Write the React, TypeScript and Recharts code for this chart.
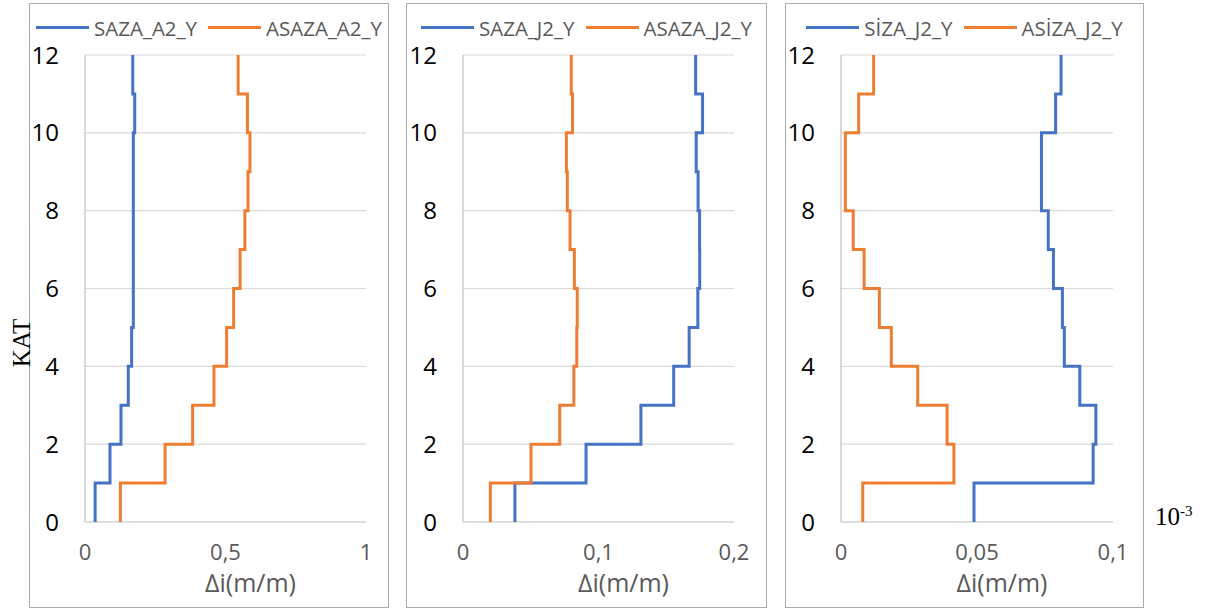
import React from 'react';
import { ScatterChart, Scatter, XAxis, YAxis, CartesianGrid, Label } from 'recharts';

// KAT (floor) numbers
const floors = [1, 2, 3, 4, 5, 6, 7, 8, 9, 10, 11, 12];
const yTicks = [0, 2, 4, 6, 8, 10, 12];

// Panel 1 – A2
const sazaA2Y = [0.036, 0.089, 0.128, 0.154, 0.166, 0.172, 0.172, 0.172, 0.172, 0.172, 0.177, 0.170];
const asazaA2Y = [0.126, 0.285, 0.383, 0.459, 0.504, 0.529, 0.552, 0.569, 0.580, 0.587, 0.578, 0.545];
const xTicksA2 = [0, 0.5, 1];

// Panel 2 – J2
const sazaJ2Y = [0.0383, 0.0908, 0.1313, 0.1555, 0.1669, 0.1733, 0.1747, 0.1746, 0.1735, 0.1721, 0.1768, 0.1717];
const asazaJ2Y = [0.0202, 0.0502, 0.0714, 0.0818, 0.0840, 0.0843, 0.0822, 0.0790, 0.0770, 0.0763, 0.0808, 0.0799];
const xTicksJ2 = [0, 0.1, 0.2];

// Panel 3 – SİZA J2 (x 10^-3)
const sizaJ2Y = [0.0489, 0.0927, 0.0937, 0.0878, 0.0821, 0.0814, 0.0781, 0.0762, 0.0737, 0.0737, 0.0789, 0.0809];
const asizaJ2Y = [0.0080, 0.0415, 0.0390, 0.0282, 0.0185, 0.0141, 0.0085, 0.0045, 0.0016, 0.0016, 0.0065, 0.0120];
const xTicksSiza = [0, 0.05, 0.1];

const BLUE = '#4472C4';
const ORANGE = '#ED7D31';
const FONT = '"Open Sans", sans-serif';

type Pt = { x: number; y: number };

function stepPoints(values: number[]): Pt[] {
  const pts: Pt[] = [];
  values.forEach((v, i) => {
    pts.push({ x: v, y: floors[i] - 1 });
    pts.push({ x: v, y: floors[i] });
  });
  return pts;
}

const noShape = () => <g />;
const fmt = (v: number) => String(v).replace('.', ',');

type Series = { name: string; color: string; values: number[] };

type PanelProps = {
  left: number;
  width: number;
  yAxisWidth: number;
  marginRight: number;
  xMax: number;
  xTicks: number[];
  series: Series[];
};

function Panel({ left, width, yAxisWidth, marginRight, xMax, xTicks, series }: PanelProps) {
  const chartW = width - 2;
  const chartH = 603;
  return (
    <div
      style={{
        position: 'absolute',
        left,
        top: 3,
        width: width - 2,
        height: 603,
        border: '1px solid #ababab',
        background: 'transparent',
      }}
    >
      <div
        style={{
          position: 'absolute',
          left: 0,
          top: 11,
          width: chartW,
          height: 25,
          display: 'flex',
          justifyContent: 'center',
          alignItems: 'center',
          gap: 11,
          whiteSpace: 'nowrap',
          fontFamily: FONT,
          fontSize: 20.5,
          color: '#595959',
        }}
      >
        {series.map((s) => (
          <div key={s.name} style={{ display: 'flex', alignItems: 'center' }}>
            <div style={{ width: 53, height: 3, background: s.color, marginRight: 5 }} />
            <span>{s.name}</span>
          </div>
        ))}
      </div>
      <ScatterChart
        width={chartW}
        height={chartH}
        margin={{ top: 51, right: marginRight, bottom: 0, left: 0 }}
      >
        <CartesianGrid vertical={false} stroke="#d9d9d9" strokeWidth={1.2} />
        <XAxis
          type="number"
          dataKey="x"
          domain={[0, xMax]}
          ticks={xTicks}
          allowDataOverflow
          tickFormatter={fmt}
          tickLine={false}
          axisLine={{ stroke: '#d0d0d0', strokeWidth: 1.2 }}
          tickMargin={16}
          height={85}
          tick={{ fill: '#595959', fontSize: 22, fontFamily: FONT }}
        >
          <Label
            value="∆i(m/m)"
            position="insideBottom"
            offset={15}
            dx={25}
            style={{ fill: '#595959', fontSize: 25, fontFamily: FONT }}
          />
        </XAxis>
        <YAxis
          type="number"
          dataKey="y"
          domain={[0, 12]}
          ticks={yTicks}
          width={yAxisWidth}
          tickLine={false}
          axisLine={{ stroke: '#bfbfbf', strokeWidth: 1.2 }}
          tickMargin={20}
          tick={{ fill: '#000000', fontSize: 24, fontFamily: FONT }}
        />
        {series.map((s) => (
          <Scatter
            key={s.name}
            name={s.name}
            data={stepPoints(s.values)}
            fill={s.color}
            line={{ stroke: s.color, strokeWidth: 3 }}
            lineJointType="linear"
            shape={noShape}
            isAnimationActive={false}
          />
        ))}
      </ScatterChart>
    </div>
  );
}

export default function App() {
  return (
    <div
      style={{
        position: 'absolute',
        left: 0,
        top: 0,
        width: 1219,
        height: 612,
        background: '#ffffff',
        overflow: 'hidden',
      }}
    >
      <Panel
        left={29}
        width={360}
        yAxisWidth={55}
        marginRight={22}
        xMax={1}
        xTicks={xTicksA2}
        series={[
          { name: 'SAZA_A2_Y', color: BLUE, values: sazaA2Y },
          { name: 'ASAZA_A2_Y', color: ORANGE, values: asazaA2Y },
        ]}
      />
      <Panel
        left={406}
        width={361}
        yAxisWidth={56}
        marginRight={32}
        xMax={0.2}
        xTicks={xTicksJ2}
        series={[
          { name: 'SAZA_J2_Y', color: BLUE, values: sazaJ2Y },
          { name: 'ASAZA_J2_Y', color: ORANGE, values: asazaJ2Y },
        ]}
      />
      <Panel
        left={785}
        width={359}
        yAxisWidth={55}
        marginRight={30}
        xMax={0.1}
        xTicks={xTicksSiza}
        series={[
          { name: 'SİZA_J2_Y', color: BLUE, values: sizaJ2Y },
          { name: 'ASİZA_J2_Y', color: ORANGE, values: asizaJ2Y },
        ]}
      />
      <svg
        width={1219}
        height={612}
        style={{ position: 'absolute', left: 0, top: 0, pointerEvents: 'none' }}
      >
        <text
          x={30}
          y={343}
          transform="rotate(-90, 30, 343)"
          textAnchor="middle"
          fontFamily='"Liberation Serif", serif'
          fontSize={25}
          fill="#000"
        >
          KAT
        </text>
        <text x={1155} y={525} fontFamily='"Liberation Serif", serif' fontSize={25} fill="#000">
          10
          <tspan fontSize={15} dy={-9}>
            -3
          </tspan>
        </text>
      </svg>
    </div>
  );
}
